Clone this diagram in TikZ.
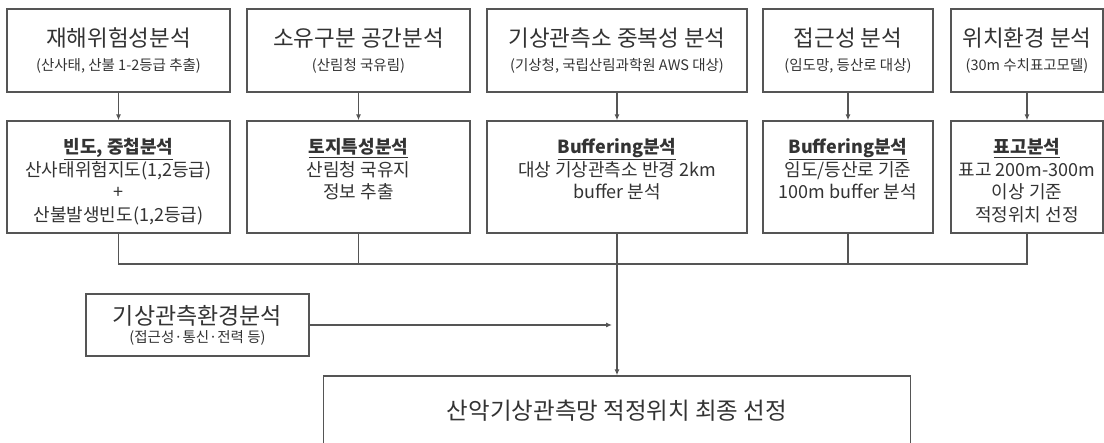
\documentclass[tikz,border=0pt]{standalone}
\usepackage{fontspec}
\setmainfont{Noto Sans CJK KR}
\usetikzlibrary{arrows.meta}
\definecolor{flowline}{HTML}{555555}
\definecolor{flowtext}{HTML}{333333}
\newcommand{\titlesize}{\fontsize{22.5}{26}\selectfont}
\newcommand{\subsize}{\fontsize{14.5}{17}\selectfont}
\newcommand{\midsize}{\fontsize{18}{22.5}\selectfont}
\tikzset{
  topbox/.style={draw=flowline, line width=1.4pt, minimum height=83pt, inner sep=0pt, text=flowtext, align=center, font=\subsize},
  midbox/.style={draw=flowline, line width=1.4pt, minimum height=112pt, inner sep=0pt},
  midtext/.style={text=flowtext, align=center, inner sep=0pt, anchor=north, font=\midsize},
  link/.style={flowline, line width=1.1pt},
  linkarrow/.style={link, -{Latex[length=6pt,width=5pt]}}
}

\begin{document}
\begin{tikzpicture}[x=1pt,y=-1pt]
\useasboundingbox (0,0) rectangle (1104,443);
\clip (0,0) rectangle (1104,443);

\node[topbox, minimum width=223pt] (risk) at (118.5,50.5) {{\titlesize 재해위험성분석}\\[7pt](산사태, 산불 1-2등급 추출)};
\node[topbox, minimum width=223pt] (owner) at (358.5,50.5) {{\titlesize 소유구분 공간분석}\\[7pt](산림청 국유림)};
\node[topbox, minimum width=260pt] (overlap) at (617,50.5) {{\titlesize 기상관측소 중복성 분석}\\[7pt](기상청, 국립산림과학원 AWS 대상)};
\node[topbox, minimum width=170pt] (access) at (848,50.5) {{\titlesize 접근성 분석}\\[7pt](임도망, 등산로 대상)};
\node[topbox, minimum width=152pt] (terrain) at (1027,50.5) {{\titlesize 위치환경 분석}\\[7pt](30m 수치표고모델)};

\node[midbox, minimum width=223pt] (freq) at (118.5,177) {};
\node[midbox, minimum width=223pt] (land) at (358.5,177) {};
\node[midbox, minimum width=260pt] (bufstation) at (617,177) {};
\node[midbox, minimum width=170pt] (bufroad) at (848,177) {};
\node[midbox, minimum width=152pt] (elev) at (1027,177) {};

\node[midtext] (freqtext) at ([yshift=-18pt]freq.north) {\textbf{\underline{빈도, 중첩분석}}\\산사태위험지도(1,2등급)\\+\\산불발생빈도(1,2등급)};
\node[midtext] (landtext) at ([yshift=-18pt]land.north) {\textbf{\underline{토지특성분석}}\\산림청 국유지\\정보 추출};
\node[midtext] (bufstationtext) at ([yshift=-18pt]bufstation.north) {\textbf{\underline{Buffering분석}}\\대상 기상관측소 반경 2km\\buffer 분석};
\node[midtext] (bufroadtext) at ([yshift=-18pt]bufroad.north) {\textbf{\underline{Buffering분석}}\\임도/등산로 기준\\100m buffer 분석};
\node[midtext] (elevtext) at ([yshift=-18pt]elev.north) {\textbf{\underline{표고분석}}\\표고 200m-300m\\이상 기준\\적정위치 선정};

\node[topbox, minimum width=223pt, minimum height=62pt] (env) at (197.5,325) {{\fontsize{23}{26}\selectfont 기상관측환경분석}\\[1pt](접근성·통신·전력 등)};
\node[topbox, minimum width=587pt, minimum height=70pt, font=\fontsize{23.5}{27}\selectfont] (final) at (617,411) {산악기상관측망 적정위치 최종 선정};

\coordinate (bus) at (617,264);

\draw[linkarrow] (risk) -- (freq);
\draw[linkarrow] (owner) -- (land);
\draw[linkarrow] (overlap) -- (bufstation);
\draw[linkarrow] (access) -- (bufroad);
\draw[linkarrow] (terrain) -- (elev);

\draw[link] (freq.south) |- (bus) -| (elev.south);
\draw[link] (land.south) -- (land.south |- bus);
\draw[link] (bufroad.south) -- (bufroad.south |- bus);
\draw[linkarrow] (bufstation.south) -- (final.north);
\draw[linkarrow, shorten >=5pt] (env.east) -- (env.east -| bus);
\end{tikzpicture}
\end{document}
